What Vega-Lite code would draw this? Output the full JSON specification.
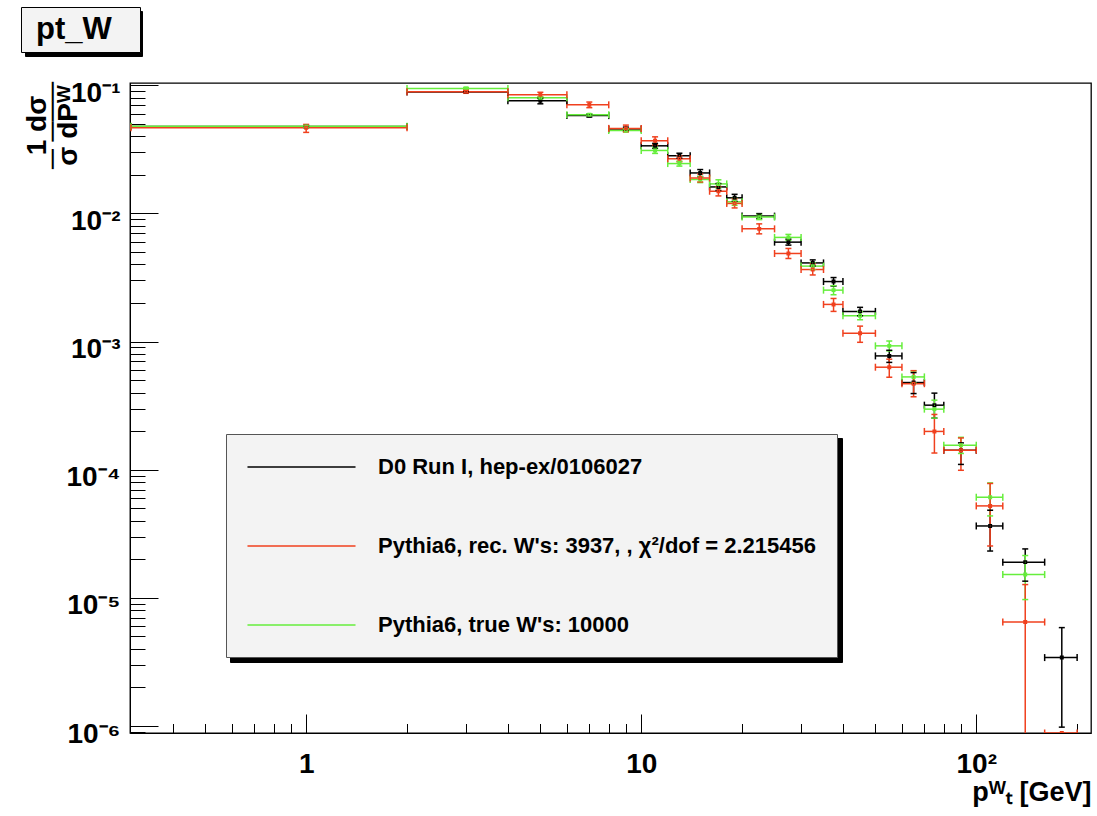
{
  "$schema": "https://vega.github.io/schema/vega-lite/v6.json",
  "width": 961,
  "height": 650,
  "autosize": {"type": "none"},
  "padding": {"left": 130, "top": 83, "right": 6, "bottom": 83},
  "background": "white",
  "config": {"view": {"stroke": "#000", "strokeWidth": 1.3}, "font": "Liberation Sans"},
  "data": {"values": [
    {"s": "D0 Run I, hep-ex/0106027", "x": 1, "xlo": 0.3, "xhi": 2, "y": 0.0476, "ylo": 0.0468, "yhi": 0.0485},
    {"s": "D0 Run I, hep-ex/0106027", "x": 3, "xlo": 2, "xhi": 4, "y": 0.0885, "ylo": 0.0869, "yhi": 0.0901},
    {"s": "D0 Run I, hep-ex/0106027", "x": 5, "xlo": 4, "xhi": 6, "y": 0.0757, "ylo": 0.0717, "yhi": 0.0795},
    {"s": "D0 Run I, hep-ex/0106027", "x": 7, "xlo": 6, "xhi": 8, "y": 0.058, "ylo": 0.0565, "yhi": 0.0596},
    {"s": "D0 Run I, hep-ex/0106027", "x": 9, "xlo": 8, "xhi": 10, "y": 0.0455, "ylo": 0.0439, "yhi": 0.0472},
    {"s": "D0 Run I, hep-ex/0106027", "x": 11, "xlo": 10, "xhi": 12, "y": 0.0337, "ylo": 0.0322, "yhi": 0.0352},
    {"s": "D0 Run I, hep-ex/0106027", "x": 13, "xlo": 12, "xhi": 14, "y": 0.0282, "ylo": 0.027, "yhi": 0.0295},
    {"s": "D0 Run I, hep-ex/0106027", "x": 15, "xlo": 14, "xhi": 16, "y": 0.0207, "ylo": 0.0194, "yhi": 0.022},
    {"s": "D0 Run I, hep-ex/0106027", "x": 17, "xlo": 16, "xhi": 18, "y": 0.0161, "ylo": 0.0151, "yhi": 0.0171},
    {"s": "D0 Run I, hep-ex/0106027", "x": 19, "xlo": 18, "xhi": 20, "y": 0.01324, "ylo": 0.01243, "yhi": 0.0141},
    {"s": "D0 Run I, hep-ex/0106027", "x": 22.5, "xlo": 20, "xhi": 25, "y": 0.00953, "ylo": 0.00911, "yhi": 0.00997},
    {"s": "D0 Run I, hep-ex/0106027", "x": 27.5, "xlo": 25, "xhi": 30, "y": 0.00597, "ylo": 0.00566, "yhi": 0.0063},
    {"s": "D0 Run I, hep-ex/0106027", "x": 32.5, "xlo": 30, "xhi": 35, "y": 0.00411, "ylo": 0.00389, "yhi": 0.00434},
    {"s": "D0 Run I, hep-ex/0106027", "x": 37.5, "xlo": 35, "xhi": 40, "y": 0.00294, "ylo": 0.00271, "yhi": 0.00316},
    {"s": "D0 Run I, hep-ex/0106027", "x": 45, "xlo": 40, "xhi": 50, "y": 0.00172, "ylo": 0.00159, "yhi": 0.00185},
    {"s": "D0 Run I, hep-ex/0106027", "x": 55, "xlo": 50, "xhi": 60, "y": 0.000773, "ylo": 0.000688, "yhi": 0.000855},
    {"s": "D0 Run I, hep-ex/0106027", "x": 65, "xlo": 60, "xhi": 70, "y": 0.000479, "ylo": 0.000393, "yhi": 0.000573},
    {"s": "D0 Run I, hep-ex/0106027", "x": 75, "xlo": 70, "xhi": 80, "y": 0.000319, "ylo": 0.000253, "yhi": 0.000396},
    {"s": "D0 Run I, hep-ex/0106027", "x": 90, "xlo": 80, "xhi": 100, "y": 0.000142, "ylo": 0.00011, "yhi": 0.000162},
    {"s": "D0 Run I, hep-ex/0106027", "x": 110, "xlo": 100, "xhi": 120, "y": 0.0000364, "ylo": 0.0000232, "yhi": 0.0000483},
    {"s": "D0 Run I, hep-ex/0106027", "x": 140, "xlo": 120, "xhi": 160, "y": 0.000019, "ylo": 0.0000135, "yhi": 0.0000241},
    {"s": "D0 Run I, hep-ex/0106027", "x": 180, "xlo": 160, "xhi": 200, "y": 0.00000342, "ylo": 0.00000098, "yhi": 0.00000586},
    {"s": "Pythia6, true W's: 10000", "x": 1, "xlo": 0.3, "xhi": 2, "y": 0.0478, "ylo": 0.0469, "yhi": 0.0487},
    {"s": "Pythia6, true W's: 10000", "x": 3, "xlo": 2, "xhi": 4, "y": 0.0946, "ylo": 0.0929, "yhi": 0.0963},
    {"s": "Pythia6, true W's: 10000", "x": 5, "xlo": 4, "xhi": 6, "y": 0.0799, "ylo": 0.0785, "yhi": 0.0813},
    {"s": "Pythia6, true W's: 10000", "x": 7, "xlo": 6, "xhi": 8, "y": 0.0589, "ylo": 0.0579, "yhi": 0.06},
    {"s": "Pythia6, true W's: 10000", "x": 9, "xlo": 8, "xhi": 10, "y": 0.0444, "ylo": 0.0432, "yhi": 0.0456},
    {"s": "Pythia6, true W's: 10000", "x": 11, "xlo": 10, "xhi": 12, "y": 0.031, "ylo": 0.0294, "yhi": 0.0327},
    {"s": "Pythia6, true W's: 10000", "x": 13, "xlo": 12, "xhi": 14, "y": 0.0245, "ylo": 0.0234, "yhi": 0.0256},
    {"s": "Pythia6, true W's: 10000", "x": 15, "xlo": 14, "xhi": 16, "y": 0.0184, "ylo": 0.0174, "yhi": 0.0194},
    {"s": "Pythia6, true W's: 10000", "x": 17, "xlo": 16, "xhi": 18, "y": 0.017, "ylo": 0.0158, "yhi": 0.0183},
    {"s": "Pythia6, true W's: 10000", "x": 19, "xlo": 18, "xhi": 20, "y": 0.01232, "ylo": 0.01157, "yhi": 0.0131},
    {"s": "Pythia6, true W's: 10000", "x": 22.5, "xlo": 20, "xhi": 25, "y": 0.00936, "ylo": 0.00895, "yhi": 0.00979},
    {"s": "Pythia6, true W's: 10000", "x": 27.5, "xlo": 25, "xhi": 30, "y": 0.0065, "ylo": 0.00616, "yhi": 0.00686},
    {"s": "Pythia6, true W's: 10000", "x": 32.5, "xlo": 30, "xhi": 35, "y": 0.00388, "ylo": 0.00364, "yhi": 0.00413},
    {"s": "Pythia6, true W's: 10000", "x": 37.5, "xlo": 35, "xhi": 40, "y": 0.00252, "ylo": 0.00232, "yhi": 0.00273},
    {"s": "Pythia6, true W's: 10000", "x": 45, "xlo": 40, "xhi": 50, "y": 0.00159, "ylo": 0.00148, "yhi": 0.00171},
    {"s": "Pythia6, true W's: 10000", "x": 55, "xlo": 50, "xhi": 60, "y": 0.000926, "ylo": 0.000846, "yhi": 0.00101},
    {"s": "Pythia6, true W's: 10000", "x": 65, "xlo": 60, "xhi": 70, "y": 0.00053, "ylo": 0.000476, "yhi": 0.00059},
    {"s": "Pythia6, true W's: 10000", "x": 75, "xlo": 70, "xhi": 80, "y": 0.000297, "ylo": 0.000253, "yhi": 0.000349},
    {"s": "Pythia6, true W's: 10000", "x": 90, "xlo": 80, "xhi": 100, "y": 0.0001553, "ylo": 0.000134, "yhi": 0.000179},
    {"s": "Pythia6, true W's: 10000", "x": 110, "xlo": 100, "xhi": 120, "y": 0.000061, "ylo": 0.0000436, "yhi": 0.0000789},
    {"s": "Pythia6, true W's: 10000", "x": 140, "xlo": 120, "xhi": 160, "y": 0.0000152, "ylo": 0.0000097, "yhi": 0.0000214},
    {"s": "Pythia6, rec. W's: 3937, , χ²/dof = 2.215456", "x": 1, "xlo": 0.3, "xhi": 2, "y": 0.0466, "ylo": 0.0429, "yhi": 0.0495},
    {"s": "Pythia6, rec. W's: 3937, , χ²/dof = 2.215456", "x": 3, "xlo": 2, "xhi": 4, "y": 0.089, "ylo": 0.0866, "yhi": 0.0914},
    {"s": "Pythia6, rec. W's: 3937, , χ²/dof = 2.215456", "x": 5, "xlo": 4, "xhi": 6, "y": 0.0843, "ylo": 0.0806, "yhi": 0.0882},
    {"s": "Pythia6, rec. W's: 3937, , χ²/dof = 2.215456", "x": 7, "xlo": 6, "xhi": 8, "y": 0.0704, "ylo": 0.0669, "yhi": 0.074},
    {"s": "Pythia6, rec. W's: 3937, , χ²/dof = 2.215456", "x": 9, "xlo": 8, "xhi": 10, "y": 0.0461, "ylo": 0.0434, "yhi": 0.0489},
    {"s": "Pythia6, rec. W's: 3937, , χ²/dof = 2.215456", "x": 11, "xlo": 10, "xhi": 12, "y": 0.0369, "ylo": 0.0343, "yhi": 0.0396},
    {"s": "Pythia6, rec. W's: 3937, , χ²/dof = 2.215456", "x": 13, "xlo": 12, "xhi": 14, "y": 0.0267, "ylo": 0.0253, "yhi": 0.0282},
    {"s": "Pythia6, rec. W's: 3937, , χ²/dof = 2.215456", "x": 15, "xlo": 14, "xhi": 16, "y": 0.0189, "ylo": 0.0176, "yhi": 0.0203},
    {"s": "Pythia6, rec. W's: 3937, , χ²/dof = 2.215456", "x": 17, "xlo": 16, "xhi": 18, "y": 0.0149, "ylo": 0.0137, "yhi": 0.0162},
    {"s": "Pythia6, rec. W's: 3937, , χ²/dof = 2.215456", "x": 19, "xlo": 18, "xhi": 20, "y": 0.01197, "ylo": 0.01104, "yhi": 0.013},
    {"s": "Pythia6, rec. W's: 3937, , χ²/dof = 2.215456", "x": 22.5, "xlo": 20, "xhi": 25, "y": 0.00758, "ylo": 0.00693, "yhi": 0.00829},
    {"s": "Pythia6, rec. W's: 3937, , χ²/dof = 2.215456", "x": 27.5, "xlo": 25, "xhi": 30, "y": 0.00487, "ylo": 0.00445, "yhi": 0.00533},
    {"s": "Pythia6, rec. W's: 3937, , χ²/dof = 2.215456", "x": 32.5, "xlo": 30, "xhi": 35, "y": 0.00365, "ylo": 0.00331, "yhi": 0.00403},
    {"s": "Pythia6, rec. W's: 3937, , χ²/dof = 2.215456", "x": 37.5, "xlo": 35, "xhi": 40, "y": 0.00195, "ylo": 0.00172, "yhi": 0.00217},
    {"s": "Pythia6, rec. W's: 3937, , χ²/dof = 2.215456", "x": 45, "xlo": 40, "xhi": 50, "y": 0.00116, "ylo": 0.000987, "yhi": 0.00132},
    {"s": "Pythia6, rec. W's: 3937, , χ²/dof = 2.215456", "x": 55, "xlo": 50, "xhi": 60, "y": 0.000631, "ylo": 0.000527, "yhi": 0.000729},
    {"s": "Pythia6, rec. W's: 3937, , χ²/dof = 2.215456", "x": 65, "xlo": 60, "xhi": 70, "y": 0.000469, "ylo": 0.000371, "yhi": 0.000593},
    {"s": "Pythia6, rec. W's: 3937, , χ²/dof = 2.215456", "x": 75, "xlo": 70, "xhi": 80, "y": 0.000199, "ylo": 0.000135, "yhi": 0.00027},
    {"s": "Pythia6, rec. W's: 3937, , χ²/dof = 2.215456", "x": 90, "xlo": 80, "xhi": 100, "y": 0.000142, "ylo": 0.000099, "yhi": 0.000177},
    {"s": "Pythia6, rec. W's: 3937, , χ²/dof = 2.215456", "x": 110, "xlo": 100, "xhi": 120, "y": 0.0000522, "ylo": 0.0000254, "yhi": 0.0000781},
    {"s": "Pythia6, rec. W's: 3937, , χ²/dof = 2.215456", "x": 140, "xlo": 120, "xhi": 160, "y": 0.00000648, "ylo": 0.00000001, "yhi": 0.0000127},
    {"s": "Pythia6, rec. W's: 3937, , χ²/dof = 2.215456", "x": 180, "xlo": 160, "xhi": 200, "y": 0.000000882, "ylo": null, "yhi": null}
  ]},
  "encoding": {
    "x": {
      "field": "x", "type": "quantitative",
      "scale": {"type": "log", "domain": [0.298, 220], "nice": false},
      "axis": {
        "values": [0.4, 0.5, 0.6, 0.7, 0.8, 0.9, 1, 2, 3, 4, 5, 6, 7, 8, 9, 10, 20, 30, 40, 50, 60, 70, 80, 90, 100, 200],
        "labelExpr": "datum.value == 1 ? '1' : datum.value == 10 ? '10' : datum.value == 100 ? '10²' : ''",
        "tickSize": {"condition": {"test": "abs(log(datum.value)/LN10 - round(log(datum.value)/LN10)) < 0.001", "value": -19}, "value": -9.5},
        "tickColor": "#000", "tickWidth": 1, "domainColor": "#000", "domainWidth": 1, "grid": false,
        "labelFont": "Liberation Sans", "labelFontWeight": "bold", "labelFontSize": 28, "labelColor": "#000",
        "labelPadding": 36, "labelFlush": false, "labelOverlap": false,
        "title": "pᵂₜ [GeV]", "titleFont": "Liberation Sans", "titleFontWeight": "bold", "titleFontSize": 27, "titleColor": "#000",
        "titleAnchor": "end", "titleAlign": "right", "titleBaseline": "alphabetic", "titleX": 961, "titleY": 67
      }
    },
    "y": {
      "field": "y", "type": "quantitative",
      "scale": {"type": "log", "domain": [8.82e-7, 0.1042], "nice": false},
      "axis": {
        "values": [9e-7, 1e-6, 2e-6, 3e-6, 4e-6, 5e-6, 6e-6, 7e-6, 8e-6, 9e-6, 1e-5, 2e-5, 3e-5, 4e-5, 5e-5, 6e-5, 7e-5, 8e-5, 9e-5, 0.0001, 0.0002, 0.0003, 0.0004, 0.0005, 0.0006, 0.0007, 0.0008, 0.0009, 0.001, 0.002, 0.003, 0.004, 0.005, 0.006, 0.007, 0.008, 0.009, 0.01, 0.02, 0.03, 0.04, 0.05, 0.06, 0.07, 0.08, 0.09, 0.1],
        "labelExpr": "abs(log(datum.value)/LN10 - round(log(datum.value)/LN10)) < 0.001 ? '10' + ['⁻⁶','⁻⁵','⁻⁴','⁻³','⁻²','⁻¹','⁰'][round(log(datum.value)/LN10) + 6] : ''",
        "tickSize": {"condition": {"test": "abs(log(datum.value)/LN10 - round(log(datum.value)/LN10)) < 0.001", "value": -28}, "value": -15},
        "tickColor": "#000", "tickWidth": 1, "domainColor": "#000", "domainWidth": 1, "grid": false,
        "labelFont": "Liberation Sans", "labelFontWeight": "bold", "labelFontSize": 28, "labelColor": "#000",
        "labelPadding": 38, "labelBaseline": "middle", "labelOffset": 8, "labelFlush": false, "labelOverlap": false,
        "title": ["1  dσ", "─ ───", "σ  dPᵂ"], "titleFont": "Liberation Sans", "titleFontWeight": "bold", "titleFontSize": 28, "titleColor": "#000",
        "titleAngle": 270, "titleAlign": "center", "titleBaseline": "alphabetic", "titleX": -85, "titleY": 42, "titleLineHeight": 15.5
      }
    }
  },
  "layer": [
    {"mark": {"type": "point", "opacity": 0},
     "encoding": {"color": {"datum": "legend shadow", "scale": {"range": ["#000000"]}, "legend": {
        "orient": "none", "legendX": 100, "legendY": 355, "title": null,
        "symbolType": "M0,0M611,223", "symbolSize": 4, "symbolStrokeWidth": 0, "symbolOpacity": 0,
        "labelExpr": "''", "labelFontSize": 1, "labelOffset": 0, "padding": 0,
        "fillColor": "#000", "strokeColor": "#000"}}}},
    {"mark": {"type": "point", "opacity": 0},
     "encoding": {"fill": {"datum": "title shadow", "scale": {"range": ["#000000"]}, "legend": {
        "orient": "none", "legendX": -105, "legendY": -72, "title": null,
        "symbolType": "M0,0M116,44", "symbolSize": 4, "symbolStrokeWidth": 0, "symbolOpacity": 0,
        "labelExpr": "''", "labelFontSize": 1, "labelOffset": 0, "padding": 0,
        "fillColor": "#000", "strokeColor": "#000"}}}},
    {
      "encoding": {
        "stroke": {
          "field": "s", "type": "nominal",
          "scale": {
            "domain": ["D0 Run I, hep-ex/0106027", "Pythia6, rec. W's: 3937, , χ²/dof = 2.215456", "Pythia6, true W's: 10000"],
            "range": ["#000000", "#f0401e", "#66ee3c"]
          },
          "legend": {
            "orient": "none", "legendX": 96, "legendY": 351, "title": null, "direction": "vertical",
            "symbolType": "M-5,0H5", "symbolSize": 467, "symbolStrokeWidth": 1.5, "symbolOffset": 42.5,
            "labelOffset": 64.5, "labelFont": "Liberation Sans", "labelFontWeight": "bold", "labelFontSize": 22, "labelColor": "#000",
            "labelLimit": 0, "rowPadding": 56, "padding": 21, "fillColor": "#f3f3f3", "strokeColor": "#555", "labelBaseline": "middle"
          }
        }
      },
      "layer": [
        {"mark": {"type": "rule", "strokeWidth": 1.5, "clip": true},
         "encoding": {"x": {"field": "xlo", "type": "quantitative"}, "x2": {"field": "xhi"}}},
        {"mark": {"type": "rule", "strokeWidth": 1.5, "clip": true},
         "encoding": {"y": {"field": "ylo", "type": "quantitative"}, "y2": {"field": "yhi"}}},
        {"mark": {"type": "rule", "strokeWidth": 1.5, "clip": true, "yOffset": -3.5, "y2Offset": 3.5},
         "encoding": {"x": {"field": "xlo", "type": "quantitative"}, "y2": {"field": "y"}}},
        {"mark": {"type": "rule", "strokeWidth": 1.5, "clip": true, "yOffset": -3.5, "y2Offset": 3.5},
         "encoding": {"x": {"field": "xhi", "type": "quantitative"}, "y2": {"field": "y"}}},
        {"mark": {"type": "rule", "strokeWidth": 1.5, "clip": true, "xOffset": -3, "x2Offset": 3},
         "encoding": {"y": {"field": "ylo", "type": "quantitative"}, "x2": {"field": "x"}}},
        {"mark": {"type": "rule", "strokeWidth": 1.5, "clip": true, "xOffset": -3, "x2Offset": 3},
         "encoding": {"y": {"field": "yhi", "type": "quantitative"}, "x2": {"field": "x"}}},
        {"mark": {"type": "point", "shape": "square", "filled": false, "size": 6, "strokeWidth": 1.5, "opacity": 1, "clip": true}}
      ]
    },
    {"mark": {"type": "point", "opacity": 0},
     "encoding": {"shape": {"datum": "pt_W", "legend": {
        "orient": "none", "legendX": -109, "legendY": -76, "title": null,
        "symbolType": "M0,-1M0,1", "symbolSize": 4, "symbolOpacity": 0, "symbolStrokeWidth": 0,
        "symbolOffset": 88.5, "labelOffset": -111.5,
        "labelFont": "Liberation Sans", "labelFontWeight": "bold",
        "labelFontSize": 31, "labelColor": "#000", "padding": 7,
        "fillColor": "#f3f3f3", "strokeColor": "#000", "labelLimit": 0}}}}
  ]
}
